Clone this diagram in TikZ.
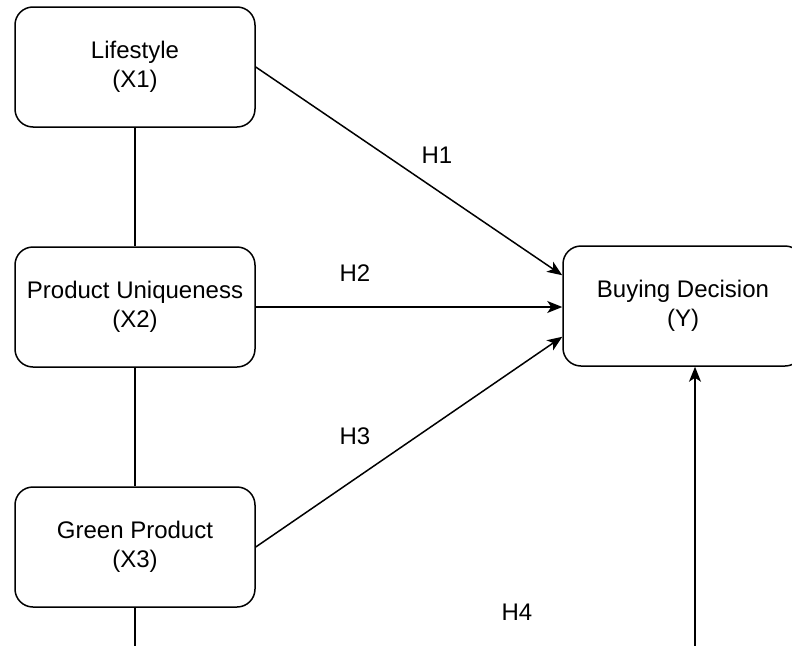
\documentclass[tikz,border=0pt]{standalone}
\usepackage{fontspec}
\setmainfont{Liberation Sans}
\usetikzlibrary{arrows.meta}

\begin{document}
\begin{tikzpicture}[x=1pt, y=-1pt,
  var/.style={draw, line width=1.5pt, rounded corners=18pt, minimum width=240pt,
    minimum height=120pt, align=center, font=\fontsize{24}{29}\selectfont},
  paths/.style={-{Stealth[length=15pt, width=12pt, inset=4pt]}, line width=1.5pt},
  links/.style={line width=1.5pt},
  hyp/.style={font=\fontsize{24}{29}\selectfont}]

 \useasboundingbox (0,0) rectangle (792,645);
 \clip (0,0) rectangle (792,645);

 \node[var] (lifestyle) at (135,67)
     {Lifestyle\\(X1)};

 \node[var] (uniqueness) at (135,307)
     {Product Uniqueness\\(X2)};

 \node[var] (green) at (135,547)
     {Green Product\\(X3)};

 \node[var] (buying) at (683,306)
     {Buying Decision\\(Y)};

 \coordinate (buying_in1) at ([yshift=-30pt]buying.north west);
 \coordinate (buying_in3) at ([yshift=30pt]buying.south west);
 \coordinate (buying_in4) at ([xshift=12pt]buying.south);
 \coordinate (green_end) at (135,665);
 \coordinate (h4_start) at (695,665);

 \node[hyp] (h1) at (437,155) {H1};
 \node[hyp] (h2) at (355,273) {H2};
 \node[hyp] (h3) at (355,436) {H3};
 \node[hyp] (h4) at (517,612) {H4};

 \draw [links] (lifestyle) -- (uniqueness);
 \draw [links] (uniqueness) -- (green);
 \draw [links] (green) -- (green_end);

 \draw [paths] (lifestyle.east) -- (buying_in1);
 \draw [paths] (uniqueness.east) -- (uniqueness.east -| buying.west);
 \draw [paths] (green.east) -- (buying_in3);
 \draw [paths] (h4_start) -- (buying_in4);

\end{tikzpicture}
\end{document}
